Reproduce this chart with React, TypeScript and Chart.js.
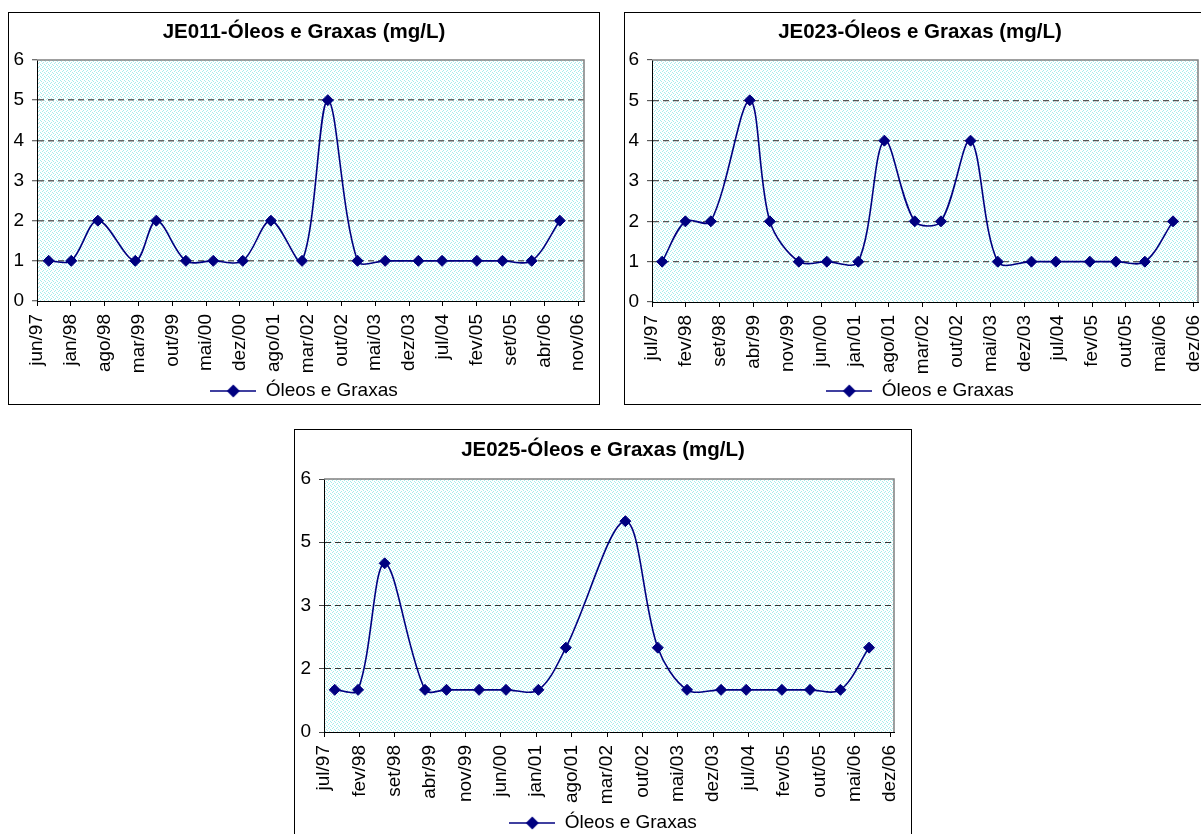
import React, { useEffect, useRef } from 'react';
import { Chart, registerables } from 'chart.js';

Chart.register(...registerables);

const FONT = "'Liberation Sans', Arial, Helvetica, sans-serif";
const NAVY = '#000080';
const STEP_DAYS = 214;
const SERIES_LABEL = 'Óleos e Graxas';

// ---------- JE011 ----------
const je011Title = 'JE011-Óleos e Graxas (mg/L)';
const je011AxisStart = '1997-06-25';
const je011AxisEnd = '2006-12-16';
const je011TickLabels = ['jun/97', 'jan/98', 'ago/98', 'mar/99', 'out/99', 'mai/00', 'dez/00', 'ago/01', 'mar/02', 'out/02', 'mai/03', 'dez/03', 'jul/04', 'fev/05', 'set/05', 'abr/06', 'nov/06'];
const je011Dates = ['1997-09-07', '1998-01-28', '1998-07-15', '1999-03-09', '1999-07-20', '2000-01-23', '2000-07-14', '2001-01-17', '2001-07-14', '2002-01-27', '2002-07-09', '2003-01-13', '2003-07-07', '2004-02-02', '2004-07-01', '2005-02-06', '2005-07-18', '2006-01-19', '2006-07-16'];
const je011Values = [1, 1, 2, 1, 2, 1, 1, 1, 2, 1, 5, 1, 1, 1, 1, 1, 1, 1, 2];
const je011YTicks = [0, 1, 2, 3, 4, 5, 6];

// ---------- JE023 ----------
const je023Title = 'JE023-Óleos e Graxas (mg/L)';
const je023AxisStart = '1997-07-11';
const je023AxisEnd = '2006-12-23';
const je023TickLabels = ['jul/97', 'fev/98', 'set/98', 'abr/99', 'nov/99', 'jun/00', 'jan/01', 'ago/01', 'mar/02', 'out/02', 'mai/03', 'dez/03', 'jul/04', 'fev/05', 'out/05', 'mai/06', 'dez/06'];
const je023Dates = ['1997-09-13', '1998-02-07', '1998-07-18', '1999-03-21', '1999-07-26', '2000-01-25', '2000-07-20', '2001-02-04', '2001-07-19', '2002-01-27', '2002-07-12', '2003-01-15', '2003-07-06', '2004-02-04', '2004-07-07', '2005-02-07', '2005-07-22', '2006-01-21', '2006-07-18'];
const je023Values = [1, 2, 2, 5, 2, 1, 1, 1, 4, 2, 2, 4, 1, 1, 1, 1, 1, 1, 2];
const je023YTicks = [0, 1, 2, 3, 4, 5, 6];

// ---------- JE025 ----------
const je025Title = 'JE025-Óleos e Graxas (mg/L)';
const je025AxisStart = '1997-07-11';
const je025AxisEnd = '2006-12-19';
const je025TickLabels = ['jul/97', 'fev/98', 'set/98', 'abr/99', 'nov/99', 'jun/00', 'jan/01', 'ago/01', 'mar/02', 'out/02', 'mai/03', 'dez/03', 'jul/04', 'fev/05', 'out/05', 'mai/06', 'dez/06'];
const je025Dates = ['1997-09-14', '1998-02-02', '1998-07-13', '1999-03-14', '1999-07-22', '2000-02-04', '2000-07-16', '2001-01-28', '2001-07-13', '2002-07-08', '2003-01-20', '2003-07-16', '2004-02-07', '2004-07-08', '2005-02-09', '2005-07-29', '2006-01-29', '2006-07-21'];
const je025Values = [1, 1, 4, 1, 1, 1, 1, 1, 2, 5, 2, 1, 1, 1, 1, 1, 1, 2];
const je025YTicks = [0, 1.5, 3, 4.5, 6];

const DAY_MS = 86400000;
const daysBetween = (a: string, b: string) => (Date.parse(b) - Date.parse(a)) / DAY_MS;

let patternTile: HTMLCanvasElement | null = null;
function getPatternTile() {
  if (patternTile) return patternTile;
  const c = document.createElement('canvas');
  c.width = 4;
  c.height = 4;
  const g = c.getContext('2d')!;
  g.fillStyle = '#ffffff';
  g.fillRect(0, 0, 4, 4);
  g.fillStyle = '#a6eded';
  g.fillRect(0, 0, 1, 1);
  g.fillRect(2, 1, 1, 1);
  g.fillRect(1, 2, 1, 1);
  g.fillRect(3, 3, 1, 1);
  patternTile = c;
  return c;
}

function makeLegendImage() {
  const c = document.createElement('canvas');
  c.width = 46;
  c.height = 14;
  const g = c.getContext('2d')!;
  g.strokeStyle = NAVY;
  g.lineWidth = 1.5;
  g.beginPath();
  g.moveTo(0, 7);
  g.lineTo(46, 7);
  g.stroke();
  g.fillStyle = NAVY;
  g.beginPath();
  g.moveTo(23 - 6.5, 7);
  g.lineTo(23, 0.5);
  g.lineTo(23 + 6.5, 7);
  g.lineTo(23, 13.5);
  g.closePath();
  g.fill();
  return c;
}

const plotAreaPlugin = {
  id: 'plotArea',
  afterLayout(chart: any) {
    // let the rotated month labels run past the axis box, as in the original
    const sx = chart.scales.x;
    if (sx) sx._computeLabelArea = () => undefined;
  },
  beforeDraw(chart: any) {
    const { ctx, chartArea: a } = chart;
    ctx.save();
    const pat = ctx.createPattern(getPatternTile(), 'repeat');
    ctx.fillStyle = pat || '#eefbfb';
    ctx.fillRect(a.left, a.top, a.right - a.left, a.bottom - a.top);
    ctx.restore();
  },
  beforeDatasetsDraw(chart: any) {
    const { ctx, chartArea: a } = chart;
    ctx.save();
    ctx.strokeStyle = '#808080';
    ctx.lineWidth = 1.5;
    ctx.beginPath();
    ctx.moveTo(a.left, a.top);
    ctx.lineTo(a.right, a.top);
    ctx.lineTo(a.right, a.bottom);
    ctx.stroke();
    ctx.restore();
  },
};

type Box = { left: number; top: number; width: number; height: number };
type Plot = { left: number; top: number; right: number; bottom: number };

type Spec = {
  title: string;
  axisStart: string;
  axisEnd: string;
  tickLabels: string[];
  dates: string[];
  values: number[];
  yTicks: number[];
  frame: Box;
  plot: Plot;
  titleCenterY: number;
  legendCenterY: number;
  gridColor: string;
  gridWidth: number;
};

const TICK_SIZE = 19;
const TITLE_SIZE = 20.5;
const LEGEND_SIZE = 19;
const LEGEND_PAD = 10;

function OilChart({ spec }: { spec: Spec }) {
  const ref = useRef<HTMLCanvasElement>(null);

  useEffect(() => {
    const canvas = ref.current!;
    const cw = spec.frame.width - 2;
    const ch = spec.frame.height - 2;
    const ox = spec.frame.left + 1;
    const oy = spec.frame.top + 1;
    const pl = spec.plot.left - ox;
    const pt = spec.plot.top - oy;
    const pr = spec.plot.right - ox;
    const pb = spec.plot.bottom - oy;
    const titleCy = spec.titleCenterY - oy;
    const legendCy = spec.legendCenterY - oy;

    const titleLH = TITLE_SIZE * 1.2;
    const tPadTop = titleCy - titleLH / 2;
    const tPadBottom = pt - tPadTop - titleLH;
    const legendH = LEGEND_SIZE + LEGEND_PAD + 10;
    const padBottom = ch - legendCy - LEGEND_SIZE / 2 - 10;
    const xAxisH = ch - padBottom - legendH - pb;
    const rightGap = cw - pr;

    const endDay = daysBetween(spec.axisStart, spec.axisEnd);
    const points = spec.dates.map((d, i) => ({ x: daysBetween(spec.axisStart, d), y: spec.values[i] }));
    const yMax = spec.yTicks[spec.yTicks.length - 1];
    const yMin = spec.yTicks[0];

    const chart = new Chart(canvas, {
      type: 'line',
      data: {
        datasets: [
          {
            label: SERIES_LABEL,
            data: points,
            xAxisID: 'x',
            yAxisID: 'y',
            borderColor: NAVY,
            backgroundColor: NAVY,
            borderWidth: 1.6,
            tension: 0.33,
            fill: false,
            pointStyle: 'rectRot',
            pointRadius: 5.5,
            pointBorderWidth: 1,
            pointBackgroundColor: NAVY,
            pointBorderColor: NAVY,
          } as any,
        ],
      },
      options: {
        animation: false,
        responsive: false,
        devicePixelRatio: 1,
        layout: { padding: { left: 0, top: 0, right: 0, bottom: padBottom } },
        scales: {
          x: {
            type: 'linear',
            min: 0,
            max: endDay,
            afterBuildTicks: (s: any) => {
              s.ticks = spec.tickLabels.map((_, i) => ({ value: i * STEP_DAYS }));
            },
            afterFit: (s: any) => {
              s.height = xAxisH;
              s.paddingLeft = 0;
              s.paddingRight = 0;
            },
            ticks: {
              autoSkip: false,
              maxRotation: 90,
              minRotation: 90,
              padding: 8,
              color: '#000',
              font: { family: FONT, size: TICK_SIZE },
              callback: (_v: any, i: number) => spec.tickLabels[i],
            },
            grid: { drawOnChartArea: false, drawTicks: true, tickLength: 5, color: '#000', lineWidth: 1 },
            border: { display: true, color: '#000', width: 1 },
          },
          y: {
            type: 'linear',
            position: 'left',
            min: yMin,
            max: yMax,
            afterBuildTicks: (s: any) => {
              s.ticks = spec.yTicks.map((v) => ({ value: v }));
            },
            afterFit: (s: any) => {
              s.width = pl;
              s.paddingTop = 0;
              s.paddingBottom = 0;
            },
            ticks: {
              padding: 8,
              color: '#000',
              font: { family: FONT, size: TICK_SIZE },
              callback: (v: any) => String(Math.round(Number(v))),
            },
            grid: {
              color: (c: any) =>
                c.tick && (c.tick.value === yMin || c.tick.value === yMax) ? 'rgba(0,0,0,0)' : spec.gridColor,
              lineWidth: spec.gridWidth,
              drawTicks: true,
              tickLength: 5,
              tickColor: '#404040',
              tickWidth: 1,
              tickBorderDash: [],
            },
            border: { display: true, color: '#000', width: 1, dash: [6, 4] },
          },
          // empty spacer on the right so that title and legend centre on the whole frame
          spacer: {
            type: 'linear',
            position: 'right',
            display: true,
            min: 0,
            max: 1,
            afterFit: (s: any) => {
              s.width = rightGap;
              s.paddingTop = 0;
              s.paddingBottom = 0;
            },
            ticks: { display: false },
            grid: { display: false, drawTicks: false },
            border: { display: false },
          },
        },
        plugins: {
          title: {
            display: true,
            text: spec.title,
            color: '#000',
            font: { family: FONT, size: TITLE_SIZE, weight: 'bold', lineHeight: 1.2 },
            padding: { top: tPadTop, bottom: tPadBottom },
          },
          legend: {
            display: true,
            position: 'bottom',
            labels: {
              usePointStyle: true,
              pointStyle: makeLegendImage() as any,
              pointStyleWidth: 46,
              color: '#000',
              font: { family: FONT, size: LEGEND_SIZE },
              padding: LEGEND_PAD,
            },
          },
          tooltip: { enabled: false },
        },
      } as any,
      plugins: [plotAreaPlugin],
    });
    return () => chart.destroy();
  }, [spec]);

  const f = spec.frame;
  return (
    <div
      style={{
        position: 'absolute',
        left: f.left,
        top: f.top,
        width: f.width,
        height: f.height,
        border: '1px solid #000',
        boxSizing: 'border-box',
        background: '#fff',
      }}
    >
      <canvas ref={ref} width={f.width - 2} height={f.height - 2} style={{ display: 'block' }} />
    </div>
  );
}

const SPECS: Spec[] = [
  {
    title: je011Title,
    axisStart: je011AxisStart,
    axisEnd: je011AxisEnd,
    tickLabels: je011TickLabels,
    dates: je011Dates,
    values: je011Values,
    yTicks: je011YTicks,
    frame: { left: 8, top: 12, width: 592, height: 393 },
    plot: { left: 37, top: 60, right: 584, bottom: 301 },
    titleCenterY: 32,
    legendCenterY: 391,
    gridColor: '#666666',
    gridWidth: 1.5,
  },
  {
    title: je023Title,
    axisStart: je023AxisStart,
    axisEnd: je023AxisEnd,
    tickLabels: je023TickLabels,
    dates: je023Dates,
    values: je023Values,
    yTicks: je023YTicks,
    frame: { left: 624, top: 12, width: 592, height: 393 },
    plot: { left: 652, top: 60, right: 1198, bottom: 302 },
    titleCenterY: 32,
    legendCenterY: 391,
    gridColor: '#555555',
    gridWidth: 1.3,
  },
  {
    title: je025Title,
    axisStart: je025AxisStart,
    axisEnd: je025AxisEnd,
    tickLabels: je025TickLabels,
    dates: je025Dates,
    values: je025Values,
    yTicks: je025YTicks,
    frame: { left: 294, top: 429, width: 618, height: 417 },
    plot: { left: 324, top: 479, right: 894, bottom: 732 },
    titleCenterY: 450,
    legendCenterY: 823,
    gridColor: '#333333',
    gridWidth: 1,
  },
];

export default function App() {
  return (
    <div
      style={{
        position: 'absolute',
        left: 0,
        top: 0,
        width: 1201,
        height: 834,
        overflow: 'hidden',
        background: '#fff',
      }}
    >
      {SPECS.map((s) => (
        <OilChart key={s.title} spec={s} />
      ))}
    </div>
  );
}
